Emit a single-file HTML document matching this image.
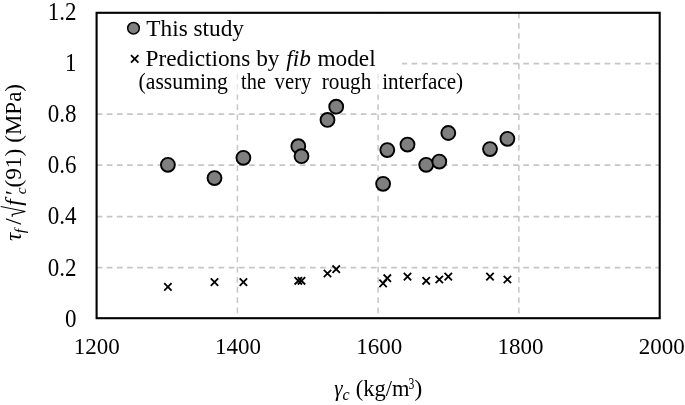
<!DOCTYPE html>
<html><head><meta charset="utf-8"><title>chart</title>
<style>
html,body{margin:0;padding:0;background:#fff;}
svg{display:block;}
text{font-family:"Liberation Serif",serif;fill:#000;}
</style></head><body>
<svg width="685" height="405" viewBox="0 0 685 405">
<rect x="0" y="0" width="685" height="405" fill="#fff"/>

<g stroke="#c6c6c6" stroke-width="1.5" stroke-dasharray="5.7 4.46" fill="none">
<line x1="96.6" y1="267.6" x2="659.7" y2="267.6" stroke-width="1.7"/>
<line x1="96.6" y1="216.6" x2="659.7" y2="216.6" stroke-width="1.7"/>
<line x1="96.6" y1="165.1" x2="659.7" y2="165.1" stroke-width="1.7"/>
<line x1="96.6" y1="114.1" x2="659.7" y2="114.1" stroke-width="1.7"/>
<line x1="96.6" y1="63.6" x2="659.7" y2="63.6" stroke-width="1.7"/>
<line x1="237.4" y1="12.8" x2="237.4" y2="318.2"/>
<line x1="378.1" y1="12.8" x2="378.1" y2="318.2"/>
<line x1="518.9" y1="12.8" x2="518.9" y2="318.2"/>
</g>
<rect x="97.6" y="13.9" width="304.4" height="62" fill="#fff"/>
<rect x="97.6" y="72" width="372" height="23" fill="#fff"/>
<g stroke="#e6e6e6" stroke-width="1.5" stroke-dasharray="5.7 4.46" stroke-dashoffset="8.40" fill="none"><line x1="237.4" y1="72" x2="237.4" y2="95"/><line x1="378.1" y1="72" x2="378.1" y2="95"/></g>
<rect x="96.6" y="12.8" width="563.1" height="305.4" fill="none" stroke="#000" stroke-width="2.1"/>
<g fill="#7f7f7f" stroke="#000" stroke-width="1.9">
<circle cx="167.9" cy="164.8" r="6.95"/>
<circle cx="214.5" cy="178.1" r="6.95"/>
<circle cx="243.4" cy="157.8" r="6.95"/>
<circle cx="298.3" cy="146.2" r="6.95"/>
<circle cx="301.5" cy="156.2" r="6.95"/>
<circle cx="327.5" cy="119.9" r="6.95"/>
<circle cx="336.2" cy="106.7" r="6.95"/>
<circle cx="383.1" cy="183.8" r="6.95"/>
<circle cx="387.3" cy="150.1" r="6.95"/>
<circle cx="407.5" cy="144.6" r="6.95"/>
<circle cx="426.2" cy="164.8" r="6.95"/>
<circle cx="439.3" cy="161.6" r="6.95"/>
<circle cx="448.3" cy="133.0" r="6.95"/>
<circle cx="490.0" cy="149.1" r="6.95"/>
<circle cx="507.4" cy="138.8" r="6.95"/>
</g>
<g stroke="#000" stroke-width="1.8" fill="none">
<path d="M164.2 283.2L171.6 290.6M164.2 290.6L171.6 283.2"/>
<path d="M210.8 278.4L218.2 285.8M210.8 285.8L218.2 278.4"/>
<path d="M239.7 278.4L247.1 285.8M239.7 285.8L247.1 278.4"/>
<path d="M294.6 277.1L302.0 284.5M294.6 284.5L302.0 277.1"/>
<path d="M297.8 277.1L305.2 284.5M297.8 284.5L305.2 277.1"/>
<path d="M323.8 269.8L331.2 277.2M323.8 277.2L331.2 269.8"/>
<path d="M332.5 265.5L339.9 272.9M332.5 272.9L339.9 265.5"/>
<path d="M379.4 279.7L386.8 287.1M379.4 287.1L386.8 279.7"/>
<path d="M383.6 274.5L391.0 281.9M383.6 281.9L391.0 274.5"/>
<path d="M403.8 272.9L411.2 280.3M403.8 280.3L411.2 272.9"/>
<path d="M422.5 277.1L429.9 284.5M422.5 284.5L429.9 277.1"/>
<path d="M435.6 275.8L443.0 283.2M435.6 283.2L443.0 275.8"/>
<path d="M444.6 272.9L452.0 280.3M444.6 280.3L452.0 272.9"/>
<path d="M486.3 272.9L493.7 280.3M486.3 280.3L493.7 272.9"/>
<path d="M503.7 275.8L511.1 283.2M503.7 283.2L511.1 275.8"/>
</g>
<text transform="translate(76.4 19.5) scale(1 1.08)" font-size="23" text-anchor="end">1.2</text>
<text transform="translate(76.4 70.7) scale(1 1.08)" font-size="23" text-anchor="end">1</text>
<text transform="translate(76.4 121.8) scale(1 1.08)" font-size="23" text-anchor="end">0.8</text>
<text transform="translate(76.4 173.0) scale(1 1.08)" font-size="23" text-anchor="end">0.6</text>
<text transform="translate(76.4 224.3) scale(1 1.08)" font-size="23" text-anchor="end">0.4</text>
<text transform="translate(76.4 275.8) scale(1 1.08)" font-size="23" text-anchor="end">0.2</text>
<text transform="translate(76.4 326.7) scale(1 1.08)" font-size="23" text-anchor="end">0</text>
<text transform="translate(96.7 354.1) scale(1 1.03)" font-size="23" text-anchor="middle">1200</text>
<text transform="translate(238.0 354.1) scale(1 1.03)" font-size="23" text-anchor="middle">1400</text>
<text transform="translate(379.2 354.1) scale(1 1.03)" font-size="23" text-anchor="middle">1600</text>
<text transform="translate(520.5 354.1) scale(1 1.03)" font-size="23" text-anchor="middle">1800</text>
<text transform="translate(661.8 354.1) scale(1 1.03)" font-size="23" text-anchor="middle">2000</text>
<g font-size="23.3"><text x="334.3" y="395.7" font-style="italic" textLength="8.3" lengthAdjust="spacingAndGlyphs">γ</text><text x="342.5" y="400.0" font-style="italic" font-size="16">c</text><text x="355.8" y="395.7" textLength="53.7" lengthAdjust="spacingAndGlyphs">(kg/m</text><text x="408.4" y="388.7" font-size="16.5" textLength="5.8" lengthAdjust="spacingAndGlyphs">3</text><text x="414.4" y="395.7">)</text></g>
<g transform="translate(21.3 241) rotate(-90)" font-size="23.3"><text x="0" y="0" font-style="italic">τ</text><text x="7.8" y="4.0" font-style="italic" font-size="15.5">f</text><text x="16.2" y="0">/</text><text transform="translate(23.8 3.6) scale(0.66 1)" font-size="31">√</text><text x="35.2" y="0" font-style="italic">f</text><text x="44.6" y="0" font-style="italic">′</text><text x="46.8" y="4.2" font-style="italic" font-size="15.5">c</text><text x="53.4" y="0">(91)</text><text x="98.3" y="0" textLength="58.7" lengthAdjust="spacingAndGlyphs">(MPa)</text></g>
<circle cx="133.5" cy="28.2" r="5.8" fill="#7f7f7f" stroke="#000" stroke-width="1.5"/>
<text x="146.3" y="36.1" font-size="23.3">This study</text>
<path d="M131.0 55.2L138.4 62.6M131.0 62.6L138.4 55.2" stroke="#000" stroke-width="1.8" fill="none"/>
<text x="145.5" y="65.9" font-size="23.3">Predictions by <tspan font-style="italic" dx="1">fib</tspan><tspan dx="0.7"> model</tspan></text>
<text x="138.5" y="89.0" font-size="23.3" textLength="89.4" lengthAdjust="spacingAndGlyphs">(assuming</text>
<text x="241.1" y="89.0" font-size="23.3" textLength="24.8" lengthAdjust="spacingAndGlyphs">the</text>
<text x="274.6" y="89.0" font-size="23.3" textLength="36.8" lengthAdjust="spacingAndGlyphs">very</text>
<text x="321.7" y="89.0" font-size="23.3" textLength="49.6" lengthAdjust="spacingAndGlyphs">rough</text>
<text x="382.2" y="89.0" font-size="23.3" textLength="80.9" lengthAdjust="spacingAndGlyphs">interface)</text>
</svg></body></html>
